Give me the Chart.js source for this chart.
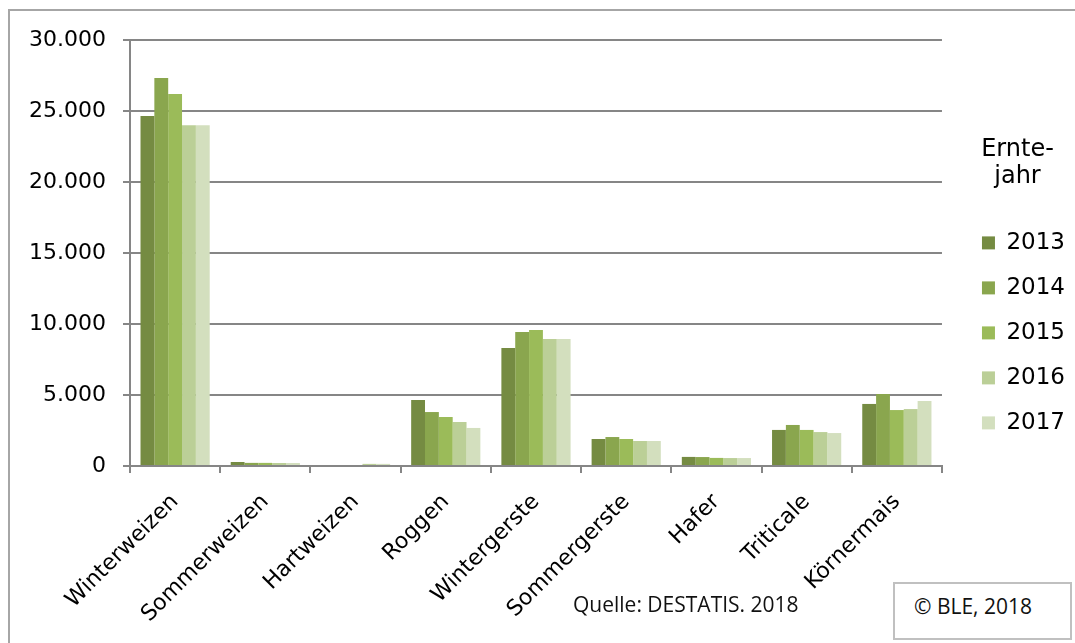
<!DOCTYPE html>
<html lang="de">
<head>
<meta charset="utf-8">
<title>Getreideernte 2013-2017</title>
<script src="https://cdn.jsdelivr.net/npm/chart.js@4.4.1/dist/chart.umd.min.js"></script>
<style>
  html, body { margin: 0; padding: 0; background: #fff; overflow: hidden; }
  #frame { position: absolute; left: 8px; top: 9px; width: 1200px; height: 800px;
           border-left: 2px solid #a6a6a6; border-top: 2px solid #a6a6a6; }
  #chart { position: absolute; left: 0; top: 0; }
  .note { position: absolute; font-family: "Open Sans", sans-serif; font-size: 21px;
          line-height: 21px; color: #111; white-space: nowrap; }
  #ble { position: absolute; left: 893px; top: 582px; width: 175px; height: 54px;
         border: 2px solid #c0c0c0; background: #fff; }
</style>
</head>
<body>
<div id="frame"></div>
<canvas id="chart" width="1075" height="643"></canvas>
<div class="note" id="quelle" style="left:573px; top:594px;">Quelle: DESTATIS. 2018</div>
<div id="ble"></div>
<div class="note" style="left:914px; top:596px;">© BLE, 2018</div>
<script>
// Erntemenge in 1.000 t
const categories = ['Winterweizen', 'Sommerweizen', 'Hartweizen', 'Roggen', 'Wintergerste',
                    'Sommergerste', 'Hafer', 'Triticale', 'Körnermais'];
const years = ['2013', '2014', '2015', '2016', '2017'];
const v2013 = [24650, 280, 0, 4650, 8310, 1900, 640, 2540, 4370];
const v2014 = [27320, 220, 0, 3800, 9440, 2040, 630, 2890, 5070];
const v2015 = [26200, 220, 0, 3450, 9580, 1900, 570, 2540, 3940];
const v2016 = [24000, 210, 150, 3100, 8940, 1760, 560, 2390, 4010];
const v2017 = [24000, 210, 150, 2680, 8940, 1760, 560, 2320, 4580];
const yTicks = [0, 5000, 10000, 15000, 20000, 25000, 30000];

const colors = ['#758b42', '#8aa64e', '#9bbb59', '#bbcf97', '#d3dfbe'];
const series = [v2013, v2014, v2015, v2016, v2017];
const gridGray = '#868686';
const font = 'DejaVu Sans';

(() => {
    const ctx = document.getElementById('chart');
    new Chart(ctx, {
        type: 'bar',
        data: {
            labels: categories,
            datasets: series.map((d, i) => ({
                label: years[i],
                data: d,
                backgroundColor: colors[i],
                borderWidth: 0,
                categoryPercentage: 0.767,
                barPercentage: 1
            }))
        },
        options: {
            responsive: false,
            animation: false,
            layout: { padding: { top: 40, left: 0, right: 0, bottom: 0 } },
            plugins: {
                tooltip: { enabled: false },
                legend: {
                    position: 'right',
                    align: 'start',
                    fullSize: false,
                    title: {
                        display: true,
                        text: ['Ernte-', 'jahr'],
                        color: '#000',
                        font: { family: font, size: 24, lineHeight: 1.1 },
                        padding: { top: 98, bottom: 45 }
                    },
                    labels: {
                        color: '#000',
                        font: { family: font, size: 23 },
                        boxWidth: 13,
                        boxHeight: 13,
                        padding: 22
                    }
                }
            },
            scales: {
                x: {
                    grid: {
                        offset: true,
                        drawOnChartArea: false,
                        color: gridGray,
                        lineWidth: 2,
                        tickLength: 7
                    },
                    border: { color: gridGray, width: 2 },
                    ticks: {
                        color: '#000',
                        font: { family: font, size: 22 },
                        minRotation: 45,
                        maxRotation: 45,
                        autoSkip: false,
                        padding: 16
                    },
                    afterFit: (s) => { s.height = 177; }
                },
                y: {
                    min: 0,
                    max: 30000,
                    afterBuildTicks: (s) => { s.ticks = yTicks.map(v => ({ value: v })); },
                    grid: { color: gridGray, lineWidth: 2, tickLength: 7 },
                    border: { color: gridGray, width: 2 },
                    ticks: {
                        color: '#000',
                        font: { family: font, size: 22 },
                        padding: 17,
                        callback: (v) => v.toLocaleString('de-DE')
                    },
                    afterFit: (s) => { s.width = 130; }
                },
                // leerer Abstandshalter zwischen Plotfläche und Legende
                spacer: {
                    type: 'linear',
                    position: 'right',
                    display: true,
                    grid: { display: false },
                    border: { display: false },
                    ticks: { display: false },
                    afterFit: (s) => { s.width = 18; }
                }
            }
        }
    });
})();
</script>
</body>
</html>
